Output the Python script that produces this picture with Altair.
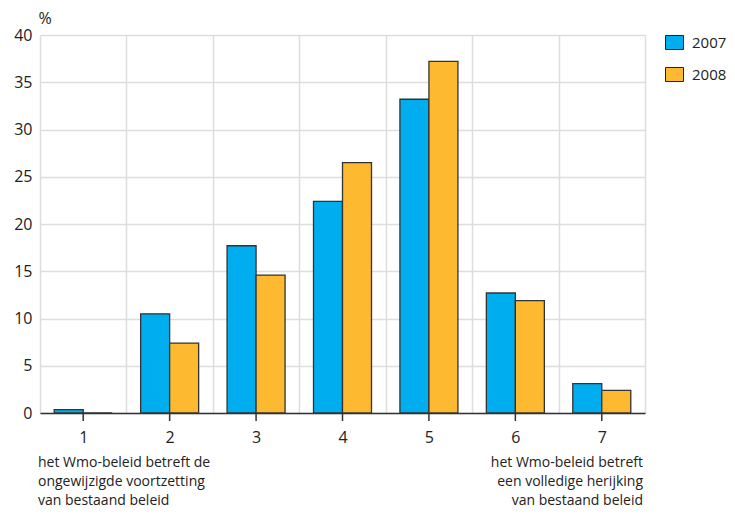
import altair as alt
import pandas as pd

categories = ["1", "2", "3", "4", "5", "6", "7"]
years = ["2007", "2008"]
values_2007 = [0.35, 10.5, 17.7, 22.4, 33.2, 12.7, 3.1]
values_2008 = [0.0, 7.4, 14.6, 26.5, 37.2, 11.9, 2.4]
y_ticks = [0, 5, 10, 15, 20, 25, 30, 35, 40]
note_left = ["het Wmo-beleid betreft de", "ongewijzigde voortzetting", "van bestaand beleid"]
note_right = ["het Wmo-beleid betreft", "een volledige herijking", "van bestaand beleid"]

rows = []
for c, a, b in zip(categories, values_2007, values_2008):
    rows.append({"cat": c, "jaar": years[0], "pct": a})
    rows.append({"cat": c, "jaar": years[1], "pct": b})
df = pd.DataFrame(rows)
df_cats = pd.DataFrame({"cat": categories})

W, H = 605, 378
FONT = "Open Sans"
TXT = "#222222"

xscale = alt.Scale(domain=categories, paddingInner=0, paddingOuter=0)

bars = alt.Chart(df).mark_bar(stroke="#333333", strokeWidth=1.3).encode(
    x=alt.X("cat:N", scale=xscale, sort=categories,
            axis=alt.Axis(title=None, labelAngle=0, grid=True, tickBand="extent",
                          ticks=False, domainColor="#333333", domainWidth=1.5,
                          gridColor="#dddddd", gridWidth=1.5, labelPadding=16,
                          labelFontSize=16, labelColor=TXT, labelFont=FONT)),
    xOffset=alt.XOffset("jaar:N", scale=alt.Scale(domain=years, paddingInner=0, paddingOuter=0.49)),
    y=alt.Y("pct:Q", scale=alt.Scale(domain=[0, 40], nice=False),
            axis=alt.Axis(values=y_ticks, title="%", titleAngle=0, titleX=-2, titleY=-9,
                          titleAlign="left", titleBaseline="bottom", titleFontSize=16,
                          titleFontWeight="normal", titleColor=TXT, titleFont=FONT,
                          domain=False, ticks=False, labelPadding=8, labelFontSize=16,
                          labelColor=TXT, labelFont=FONT, gridColor="#dddddd", gridWidth=1.5)),
    color=alt.Color("jaar:N", scale=alt.Scale(domain=years, range=["#00AEEF", "#FDB92F"]),
                    legend=alt.Legend(title=None, orient="none", legendX=W + 20, legendY=-2,
                                      symbolType="M-1,-0.78H1V0.78H-1Z", symbolSize=324,
                                      symbolStrokeColor="#222222", symbolStrokeWidth=1,
                                      symbolOpacity=1, labelFontSize=15, labelColor=TXT,
                                      labelFont=FONT, rowPadding=13, labelOffset=8)),
)

tick_marks = alt.Chart(df_cats).mark_rule(color="#333333", strokeWidth=1.5).encode(
    x=alt.X("cat:N", sort=categories),
    y=alt.value(H),
    y2=alt.value(H + 8),
)

left_note = alt.Chart(pd.DataFrame({"t": ["\n".join(note_left)]})).mark_text(
    align="left", baseline="alphabetic", fontSize=14, font=FONT, color=TXT,
    lineBreak="\n", lineHeight=19,
).encode(x=alt.value(-2), y=alt.value(H + 54), text="t:N")

right_note = alt.Chart(pd.DataFrame({"t": ["\n".join(note_right)]})).mark_text(
    align="right", baseline="alphabetic", fontSize=14, font=FONT, color=TXT,
    lineBreak="\n", lineHeight=19,
).encode(x=alt.value(W - 2), y=alt.value(H + 54), text="t:N")

chart = alt.layer(bars, tick_marks, left_note, right_note).properties(
    width=W, height=H,
    autosize=alt.AutoSizeParams(type="none"),
    padding={"left": 32, "top": 27, "right": 82, "bottom": 97},
).configure_view(stroke=None)

chart.save("out.html", embed_options={"renderer": "svg", "actions": False})
